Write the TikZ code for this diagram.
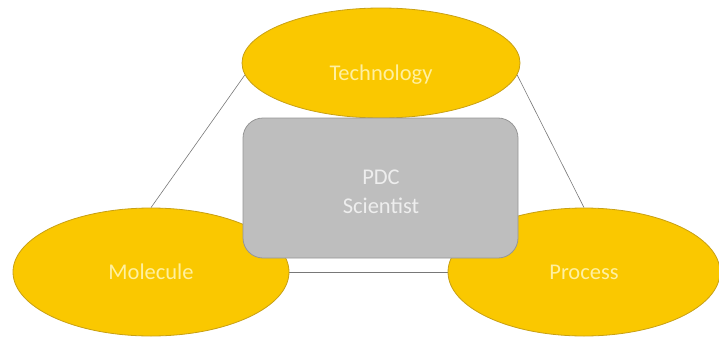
\documentclass[tikz,border=0pt]{standalone}
\usepackage{fontspec}
\setmainfont{Carlito}
\usetikzlibrary{shapes.geometric,backgrounds}
\definecolor{gold}{RGB}{250,200,0}
\definecolor{goldedge}{RGB}{200,160,20}
\definecolor{goldtext}{RGB}{255,240,160}
\definecolor{boxfill}{RGB}{190,190,190}
\definecolor{boxedge}{RGB}{150,150,150}
\definecolor{boxtext}{RGB}{238,238,238}
\definecolor{linkgray}{RGB}{120,120,120}
\tikzset{
  topic/.style={ellipse, draw=goldedge, fill=gold, line width=0.8pt, inner sep=0pt,
    text=goldtext, font=\fontsize{22.5}{27}\selectfont},
  topiclabel/.style={inner sep=0pt, text=goldtext, font=\fontsize{22.5}{27}\selectfont},
  center/.style={rectangle, rounded corners=20pt, draw=boxedge, fill=boxfill, line width=0.8pt,
    minimum width=275pt, minimum height=140pt, inner sep=0pt},
  centerlabel/.style={inner sep=0pt, align=center, text=boxtext, font=\fontsize{22.5}{29}\selectfont},
  link/.style={draw=linkgray, line width=0.6pt}
}
\begin{document}
\begin{tikzpicture}[x=1pt,y=-1pt]
\useasboundingbox (0,0) rectangle (719,337);
\node[topic, minimum width=278pt, minimum height=110pt] (tech) at (381,63) {};
\node[topiclabel] (techtext) at (381,75) {Technology};
\node[topic, minimum width=276pt, minimum height=128pt] (mol) at (151,272) {Molecule};
\node[topic, minimum width=272pt, minimum height=128pt] (proc) at (584,272) {Process};
\node[center] (pdc) at (380.5,188) {};
\node[centerlabel] (pdctext) at (381,192) {PDC\\Scientist};
\begin{pgfonlayer}{background}
\draw[link] (tech.185) -- (mol.north);
\draw[link] (tech.355) -- (proc.north);
\draw[link] (mol.east) -- (proc.west);
\end{pgfonlayer}
\end{tikzpicture}
\end{document}
